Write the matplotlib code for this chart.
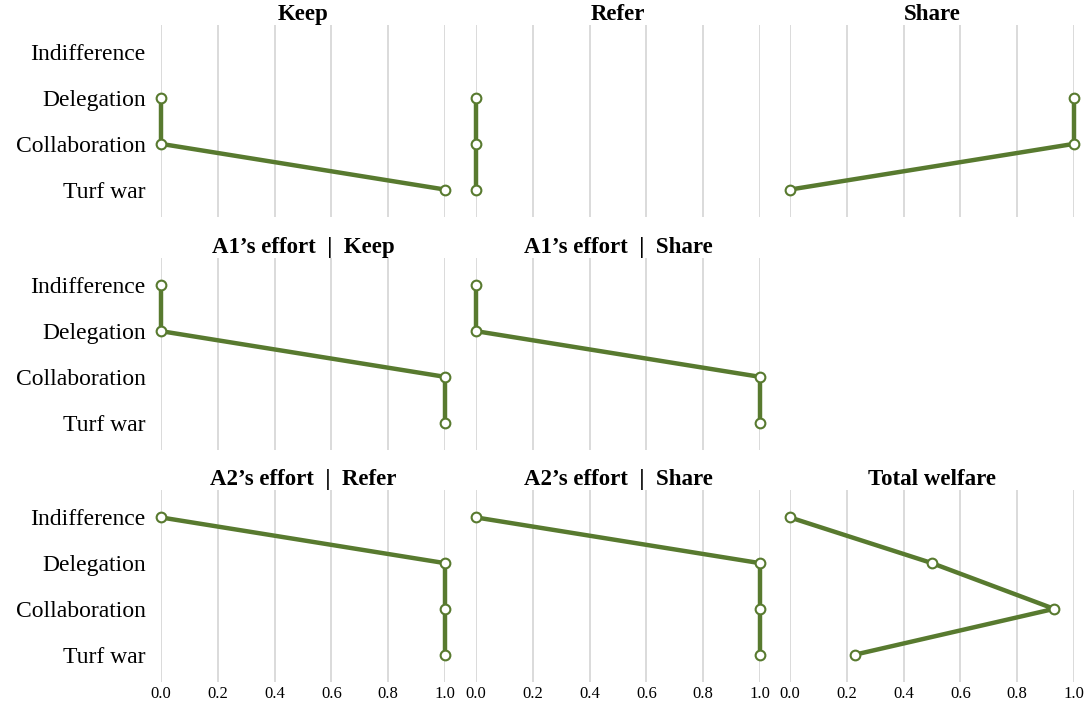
import numpy as np
import matplotlib
matplotlib.use("Agg")
import matplotlib.pyplot as plt

# categories, bottom to top
categories = ["Turf war", "Collaboration", "Delegation", "Indifference"]

# values listed in the same order as categories (NaN = not shown)
keep = [1.0, 0.0, 0.0, np.nan]
refer = [0.0, 0.0, 0.0, np.nan]
share = [0.0, 1.0, 1.0, np.nan]
a1_keep = [1.0, 1.0, 0.0, 0.0]
a1_share = [1.0, 1.0, 0.0, 0.0]
a2_refer = [1.0, 1.0, 1.0, 0.0]
a2_share = [1.0, 1.0, 1.0, 0.0]
total_welfare = [0.23, 0.93, 0.5, 0.0]

panels = [
    (0, 0, "Keep", keep),
    (0, 1, "Refer", refer),
    (0, 2, "Share", share),
    (1, 0, "A1\u2019s effort  |  Keep", a1_keep),
    (1, 1, "A1\u2019s effort  |  Share", a1_share),
    (2, 0, "A2\u2019s effort  |  Refer", a2_refer),
    (2, 1, "A2\u2019s effort  |  Share", a2_share),
    (2, 2, "Total welfare", total_welfare),
]

xticks = [0.0, 0.2, 0.4, 0.6, 0.8, 1.0]

plt.rcParams["font.family"] = ["Liberation Serif", "DejaVu Serif"]

W, H = 1090, 706
fig = plt.figure(figsize=(W / 100, H / 100), dpi=100)

col_left = [161, 476, 790]
row_top = [25, 258, 490]
aw, ah = 284, 192
green = "#587a2f"

for r, c, title, vals in panels:
    ax = fig.add_axes([col_left[c] / W, 1 - (row_top[r] + ah) / H, aw / W, ah / H])
    y = np.arange(len(categories))
    v = np.array(vals)
    m = ~np.isnan(v)
    ax.plot(v[m], y[m], color=green, lw=3.2, marker="o", ms=7,
            mfc="white", mec=green, mew=1.5, zorder=3, clip_on=False)
    ax.set_xlim(0, 1)
    ax.set_ylim(-0.6, 3.6)
    ax.set_xticks(xticks)
    ax.grid(axis="x", color="#d4d4d4", lw=1.2)
    ax.set_axisbelow(True)
    for s in ax.spines.values():
        s.set_visible(False)
    ax.tick_params(length=0)
    ax.set_title(title, fontsize=16.5, fontweight="bold", pad=3)
    if c == 0:
        ax.set_yticks(y)
        ax.set_yticklabels(categories, fontsize=17)
        ax.tick_params(axis="y", pad=11)
    else:
        ax.set_yticks([])
    if r == 2:
        ax.set_xticklabels([f"{t:.1f}" for t in xticks], fontsize=12)
        ax.tick_params(axis="x", pad=3)
    else:
        ax.set_xticklabels([])

fig.savefig("out.png", dpi=100)
